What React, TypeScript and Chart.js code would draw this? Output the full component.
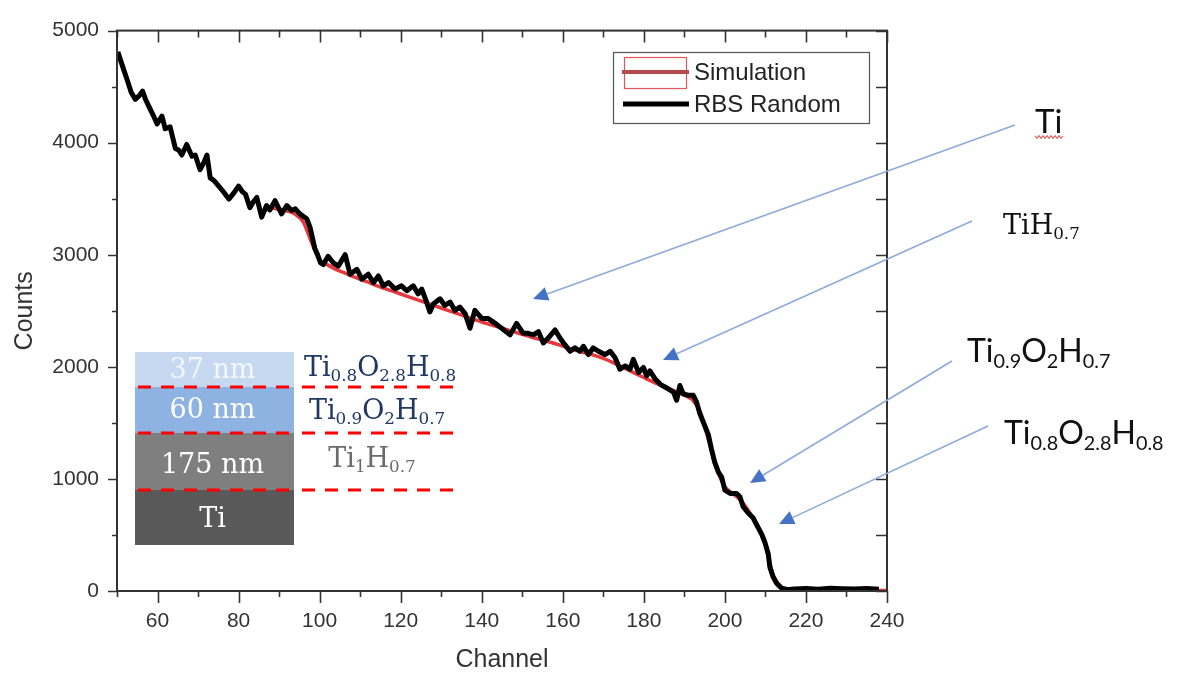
import React, { useEffect, useRef } from 'react';
import { Chart, registerables } from 'chart.js';

Chart.register(...registerables);

// ---------- data ----------
const rbsChannel = [
  50.2, 51.3, 52.5, 53.5, 54.5, 55.5, 56.3, 57.0, 57.8, 59.0, 59.9, 61.1, 61.9, 63.1, 64.4, 65.2, 66.0, 67.2, 68.5, 69.3,
  70.5, 71.4, 72.2, 73.0, 74.0, 75.1, 76.3, 77.6, 78.8, 80.0, 81.0, 81.7, 82.8, 83.6, 84.5, 85.7, 86.9, 87.7, 89.0, 90.6,
  91.9, 93.1, 94.0, 95.1, 96.8, 97.6, 98.8, 99.5, 100.2, 100.9, 102.1, 103.4, 104.6, 106.3, 107.5, 109.2, 110.4, 112.0, 113.3, 114.5,
  115.7, 117.0, 118.6, 120.2, 121.5, 123.1, 124.3, 125.2, 126.4, 127.2, 128.1, 129.7, 130.9, 132.2, 133.4, 134.6, 135.9, 137.1, 138.3, 140.0,
  141.6, 143.3, 144.9, 147.0, 148.6, 150.2, 151.3, 152.7, 154.0, 155.2, 156.4, 158.1, 159.3, 160.5, 161.8, 163.0, 164.2, 165.1, 166.3, 167.5,
  168.8, 170.4, 171.7, 172.9, 174.1, 175.4, 176.6, 177.4, 178.7, 179.9, 180.7, 181.5, 182.8, 184.2, 186.0, 187.3, 188.1, 188.9, 189.7, 191.0,
  192.2, 193.0, 193.8, 195.1, 195.9, 196.7, 197.5, 198.4, 199.2, 200.0, 201.3, 202.9, 203.7, 204.5, 205.8, 207.0, 207.8, 209.1, 209.9, 210.7,
  211.1, 211.9, 212.8, 214.0, 215.6, 217.0, 220.0, 223.0, 226.0, 229.0, 232.0, 235.0, 238.0,
];
const rbsCounts = [
  4810, 4690, 4562, 4450, 4387, 4420, 4460, 4390, 4328, 4240, 4168, 4238, 4124, 4142, 3949, 3935, 3890, 3984, 3879, 3890,
  3759, 3820, 3890, 3686, 3660, 3613, 3560, 3497, 3550, 3613, 3560, 3541, 3420, 3470, 3511, 3336, 3439, 3400, 3482, 3365,
  3439, 3395, 3410, 3365, 3321, 3249, 3059, 3000, 2930, 2913, 2986, 2927, 2898, 3001, 2826, 2870, 2782, 2826, 2752, 2811,
  2723, 2752, 2694, 2723, 2679, 2723, 2651, 2694, 2577, 2490, 2563, 2607, 2548, 2577, 2504, 2533, 2475, 2344, 2504, 2432,
  2432, 2388, 2344, 2285, 2388, 2300, 2300, 2285, 2314, 2213, 2257, 2329, 2257, 2198, 2139, 2169, 2139, 2183, 2110, 2169,
  2139, 2110, 2139, 2081, 1979, 2008, 1979, 2067, 1950, 1994, 1920, 1965, 1891, 1840, 1804, 1775, 1702, 1833, 1760, 1746,
  1746, 1687, 1585, 1468, 1395, 1264, 1147, 1060, 1016, 899, 870, 870, 841, 753, 694, 651, 593, 505, 432, 330,
  213, 125, 67, 24, 12, 18, 22, 15, 24, 20, 17, 22, 15,
];
const simChannel = [
  88, 90, 92, 94, 96, 98, 100, 102, 104, 106, 108, 110, 112, 114, 116, 118, 120, 122, 124, 126, 128,
  130, 132, 134, 136, 138, 140, 142, 144, 146, 148, 150, 152, 154, 156, 158, 160, 162, 164, 166, 168,
  170, 172, 174, 176, 178, 180, 182, 184, 186, 188, 190, 192, 194, 196, 198, 200, 202, 204, 206, 208,
  210, 212, 214, 216, 220, 230, 240,
];
const simCounts = [
  3420, 3405, 3390, 3360, 3290, 3110, 2950, 2910, 2870, 2840, 2810, 2780, 2755, 2725, 2700, 2675, 2650, 2625, 2600, 2575, 2550,
  2525, 2500, 2475, 2450, 2425, 2400, 2378, 2356, 2334, 2312, 2290, 2268, 2248, 2228, 2208, 2185, 2160, 2140, 2120, 2100,
  2075, 2045, 2010, 1975, 1940, 1905, 1870, 1838, 1808, 1778, 1748, 1705, 1590, 1340, 1090, 930, 868, 805, 705, 585,
  405, 135, 32, 8, 5, 5, 5,
];
const xTickValues = [60, 80, 100, 120, 140, 160, 180, 200, 220, 240];
const yTickValues = [0, 1000, 2000, 3000, 4000, 5000];
const seriesLabels = ['Simulation', 'RBS Random'];
const xTitle = 'Channel';
const yTitle = 'Counts';
const layerThickness = ['37 nm', '60 nm', '175 nm', 'Ti'];
type Part = [string, boolean];
const layerFormulas: Part[][] = [
  [['Ti', false], ['0.8', true], ['O', false], ['2.8', true], ['H', false], ['0.8', true]],
  [['Ti', false], ['0.9', true], ['O', false], ['2', true], ['H', false], ['0.7', true]],
  [['Ti', false], ['1', true], ['H', false], ['0.7', true]],
];
const calloutLabels: Part[][] = [
  [['Ti', false]],
  [['TiH', false], ['0.7', true]],
  [['Ti', false], ['0.9', true], ['O', false], ['2', true], ['H', false], ['0.7', true]],
  [['Ti', false], ['0.8', true], ['O', false], ['2.8', true], ['H', false], ['0.8', true]],
];

// ---------- helpers ----------
function drawChem(ctx: CanvasRenderingContext2D, parts: Part[], x: number, y: number, size: number, family: string, color: string, align: 'left' | 'center' = 'left', subScale = 0.62) {
  const sub = size * subScale;
  let w = 0;
  for (const [t, s] of parts) {
    ctx.font = `${s ? sub : size}px ${family}`;
    w += ctx.measureText(t).width;
  }
  let cx = align === 'center' ? x - w / 2 : x;
  ctx.fillStyle = color;
  ctx.textAlign = 'left';
  ctx.textBaseline = 'alphabetic';
  for (const [t, s] of parts) {
    ctx.font = `${s ? sub : size}px ${family}`;
    ctx.fillText(t, cx, s ? y + size * 0.2 : y);
    cx += ctx.measureText(t).width;
  }
}

function arrow(ctx: CanvasRenderingContext2D, x1: number, y1: number, x2: number, y2: number) {
  const ang = Math.atan2(y2 - y1, x2 - x1);
  const len = 15, half = 7;
  const bx = x2 - Math.cos(ang) * len, by = y2 - Math.sin(ang) * len;
  ctx.strokeStyle = '#8eaadb';
  ctx.lineWidth = 1.6;
  ctx.beginPath();
  ctx.moveTo(x1, y1);
  ctx.lineTo(bx, by);
  ctx.stroke();
  ctx.fillStyle = '#4472c4';
  ctx.beginPath();
  ctx.moveTo(x2, y2);
  ctx.lineTo(bx + Math.sin(ang) * half, by - Math.cos(ang) * half);
  ctx.lineTo(bx - Math.sin(ang) * half, by + Math.cos(ang) * half);
  ctx.closePath();
  ctx.fill();
}

const framePlugin = {
  id: 'frameTicks',
  afterDraw(chart: any) {
    const { ctx, chartArea: a, scales } = chart;
    const xs = scales.x, ys = scales.y;
    ctx.save();
    ctx.strokeStyle = '#333';
    ctx.lineWidth = 2;
    ctx.strokeRect(a.left, a.top, a.right - a.left, a.bottom - a.top);
    ctx.lineWidth = 1.6;
    ctx.beginPath();
    for (let v = 50; v <= 240; v += 10) {
      const px = Math.round(xs.getPixelForValue(v)) + 0.5;
      const major = v % 20 === 0;
      ctx.moveTo(px, a.bottom);
      ctx.lineTo(px, a.bottom + (major ? 12 : 6));
      ctx.moveTo(px, a.top);
      ctx.lineTo(px, a.top + (major ? 12 : 7));
    }
    for (let v = 0; v <= 5000; v += 500) {
      const py = Math.round(ys.getPixelForValue(v)) + 0.5;
      const major = v % 1000 === 0;
      ctx.moveTo(a.left, py);
      ctx.lineTo(a.left - (major ? 9 : 5), py);
      ctx.moveTo(a.right, py);
      ctx.lineTo(a.right - 11, py);
    }
    ctx.stroke();
    ctx.restore();
  },
};

const annotationPlugin = {
  id: 'annotations',
  afterDraw(chart: any) {
    const { ctx } = chart;
    const ds = chart.data.datasets;
    ctx.save();

    // legend
    ctx.fillStyle = '#fff';
    ctx.fillRect(613, 52, 256, 71);
    ctx.strokeStyle = '#555';
    ctx.lineWidth = 1.2;
    ctx.strokeRect(613.5, 52.5, 256, 71);
    ctx.strokeStyle = '#e4555a';
    ctx.lineWidth = 1.2;
    ctx.strokeRect(624.5, 57.5, 62, 31);
    ctx.strokeStyle = '#b34a4e';
    ctx.lineWidth = 4;
    ctx.beginPath();
    ctx.moveTo(622, 72);
    ctx.lineTo(689, 72);
    ctx.stroke();
    ctx.strokeStyle = '#000';
    ctx.lineWidth = 5;
    ctx.beginPath();
    ctx.moveTo(623, 104);
    ctx.lineTo(689, 104);
    ctx.stroke();
    ctx.fillStyle = '#222';
    ctx.font = '24px "Liberation Sans", Arial, sans-serif';
    ctx.textAlign = 'left';
    ctx.textBaseline = 'middle';
    ctx.fillText(ds[0].label, 694, 73);
    ctx.fillText(ds[1].label, 694, 105);

    // layer stack inset
    const boxL = 135, boxW = 159;
    const bands = [
      { y0: 352, y1: 387, fill: '#c6d9f0', text: '#f4f7fc', base: 378 },
      { y0: 387, y1: 433, fill: '#8eb3e2', text: '#ffffff', base: 418 },
      { y0: 433, y1: 490, fill: '#7f7f7f', text: '#ffffff', base: 473 },
      { y0: 490, y1: 545, fill: '#595959', text: '#ffffff', base: 527 },
    ];
    const serif = '"DejaVu Serif", "Liberation Serif", serif';
    bands.forEach((b, i) => {
      ctx.fillStyle = b.fill;
      ctx.fillRect(boxL, b.y0, boxW, b.y1 - b.y0);
      drawChem(ctx, [[layerThickness[i], false]], boxL + boxW / 2 - 2, b.base, 27, serif, b.text, 'center');
    });
    drawChem(ctx, layerFormulas[0], 380, 376, 27, serif, '#1f3864', 'center');
    drawChem(ctx, layerFormulas[1], 377, 419, 27, serif, '#1f3864', 'center');
    drawChem(ctx, layerFormulas[2], 372, 467, 27, serif, '#6b6b6b', 'center');
    ctx.strokeStyle = '#ff0000';
    ctx.lineWidth = 3;
    ctx.setLineDash([13, 10]);
    [387, 433, 490].forEach((y) => {
      ctx.beginPath();
      ctx.moveTo(138, y);
      ctx.lineTo(294, y);
      ctx.moveTo(302, y);
      ctx.lineTo(457, y);
      ctx.stroke();
    });
    ctx.setLineDash([]);

    // callouts
    const sans = 'Lato, "Open Sans", sans-serif';
    drawChem(ctx, calloutLabels[0], 1035, 133, 33, sans, '#111');
    drawChem(ctx, calloutLabels[1], 1003, 234, 27, serif, '#111');
    drawChem(ctx, calloutLabels[2], 967, 362, 32, sans, '#111');
    drawChem(ctx, calloutLabels[3], 1004, 444, 32, sans, '#111');
    // red squiggle under "Ti"
    ctx.strokeStyle = '#e06a6a';
    ctx.lineWidth = 1.2;
    ctx.beginPath();
    for (let x = 1035, k = 0; x <= 1064; x += 2, k++) {
      const y = 137 + (k % 2 ? 1.2 : -1.2);
      if (k === 0) ctx.moveTo(x, y); else ctx.lineTo(x, y);
    }
    ctx.stroke();

    arrow(ctx, 1015, 125, 533, 299);
    arrow(ctx, 972, 221, 663, 360);
    arrow(ctx, 952, 361, 750, 483);
    arrow(ctx, 988, 426, 779, 524);

    ctx.restore();
  },
};

export default function App() {
  const ref = useRef<HTMLCanvasElement>(null);
  useEffect(() => {
    document.body.style.margin = '0';
    const canvas = ref.current;
    if (!canvas) return;
    const tickFont = { family: '"Liberation Sans", Arial, sans-serif', size: 21 };
    const titleFont = { family: '"Liberation Sans", Arial, sans-serif', size: 25 };
    const chart = new Chart(canvas, {
      type: 'line',
      data: {
        datasets: [
          {
            label: seriesLabels[0],
            data: simChannel.map((x, i) => ({ x, y: simCounts[i] })),
            borderColor: '#e8383d',
            borderWidth: 3.5,
            pointRadius: 0,
            cubicInterpolationMode: 'monotone',
            order: 2,
          },
          {
            label: seriesLabels[1],
            data: rbsChannel.map((x, i) => ({ x, y: rbsCounts[i] })),
            borderColor: '#000000',
            borderWidth: 5,
            pointRadius: 0,
            tension: 0,
            borderJoinStyle: 'round',
            order: 1,
          },
        ],
      },
      options: {
        responsive: false,
        animation: false,
        events: [],
        layout: { padding: { left: 0, top: 20, right: 304, bottom: 0 } },
        plugins: { legend: { display: false }, tooltip: { enabled: false } },
        scales: {
          x: {
            type: 'linear',
            min: 50,
            max: 240,
            afterBuildTicks: (s: any) => { s.ticks = xTickValues.map((v) => ({ value: v })); },
            afterFit: (s: any) => { s.height = 86; },
            grid: { display: false, drawTicks: false },
            border: { display: false },
            ticks: { padding: 18, color: '#333', font: tickFont, maxRotation: 0, autoSkip: false, callback: (v: any) => String(v) },
            title: { display: true, text: xTitle, color: '#333', font: titleFont, padding: { top: 0, bottom: 2 } },
          },
          y: {
            type: 'linear',
            min: 0,
            max: 5000,
            afterBuildTicks: (s: any) => { s.ticks = yTickValues.map((v) => ({ value: v })); },
            afterFit: (s: any) => { s.width = 117; },
            grid: { display: false, drawTicks: false },
            border: { display: false },
            ticks: { padding: 18, color: '#333', font: tickFont, autoSkip: false, callback: (v: any) => String(v) },
            title: { display: true, text: yTitle, color: '#333', font: titleFont, padding: { top: 10, bottom: 0 } },
          },
        },
      } as any,
      plugins: [framePlugin, annotationPlugin],
    });
    return () => chart.destroy();
  }, []);
  return (
    <div style={{ width: 1191, height: 677, background: '#fff' }}>
      <canvas ref={ref} width={1191} height={677} style={{ display: 'block' }} />
    </div>
  );
}
